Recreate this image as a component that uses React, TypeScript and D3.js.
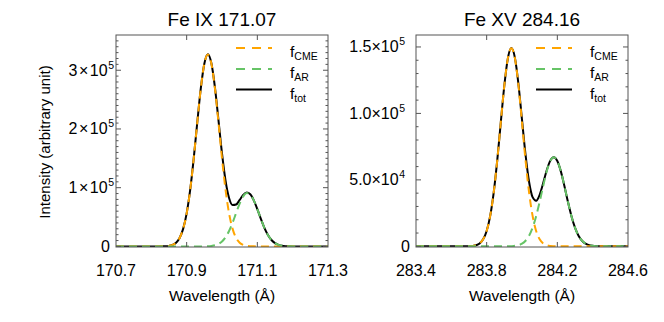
import React from "react";
import * as d3 from "d3";

const FONT = "'Liberation Sans', Arial, Helvetica, sans-serif";

// ---------- Data (intensities in units of 1e3) ----------
const leftTitle = "Fe IX 171.07";
const leftWavelength = [
  170.7, 170.8, 170.82, 170.83, 170.84, 170.85, 170.86, 170.87, 170.88, 170.89,
  170.9, 170.91, 170.92, 170.93, 170.94, 170.95, 170.96, 170.97, 170.98, 170.99,
  171.0, 171.01, 171.02, 171.03, 171.04, 171.05, 171.06, 171.07, 171.08, 171.09,
  171.1, 171.11, 171.12, 171.13, 171.14, 171.15, 171.16, 171.17, 171.18, 171.19,
  171.2, 171.3,
];
const leftCME = [
  0, 0, 0, 0.1, 0.3, 0.9, 2.5, 6.3, 14.4, 29.9,
  56.2, 96.5, 150, 211, 269, 311, 327, 311, 269, 211,
  150, 96.5, 56.2, 29.9, 14.4, 6.3, 2.5, 0.9, 0.3, 0.1,
  0, 0, 0, 0, 0, 0, 0, 0, 0, 0,
  0, 0,
];
const leftAR = [
  0, 0, 0, 0, 0, 0, 0, 0, 0, 0,
  0, 0, 0, 0, 0, 0.1, 0.29, 0.77, 1.87, 4.15,
  8.4, 15.6, 26.3, 40.5, 56.9, 72.9, 85.2, 90.8, 88.4, 78.4,
  63.5, 46.9, 31.6, 19.4, 10.9, 5.6, 2.6, 1.1, 0.43, 0.15,
  0.05, 0,
];
const leftXTicks = [170.7, 170.9, 171.1, 171.3];
const leftYTicks = [0, 100, 200, 300];
const leftYLabels = [["0", ""], ["1", "5"], ["2", "5"], ["3", "5"]];
const leftXDomain = [170.7, 171.3];
const leftYDomain = [-1, 360];

const rightTitle = "Fe XV 284.16";
const rightWavelength = [
  283.4, 283.6, 283.64, 283.66, 283.68, 283.7, 283.72, 283.74, 283.76, 283.78,
  283.8, 283.82, 283.84, 283.86, 283.88, 283.9, 283.92, 283.94, 283.96, 283.98,
  284.0, 284.02, 284.04, 284.06, 284.08, 284.1, 284.12, 284.14, 284.16, 284.18,
  284.2, 284.22, 284.24, 284.26, 284.28, 284.3, 284.32, 284.34, 284.36, 284.38,
  284.4, 284.42, 284.44, 284.46, 284.48, 284.6,
];
const rightCME = [
  0, 0, 0, 0, 0, 0.08, 0.27, 0.82, 2.2, 5.3,
  11.6, 22.9, 40.6, 64.8, 93.3, 121.0, 141.4, 149, 141.4, 121.0,
  93.3, 64.8, 40.6, 22.9, 11.6, 5.3, 2.2, 0.82, 0.27, 0.08,
  0, 0, 0, 0, 0, 0, 0, 0, 0, 0,
  0, 0, 0, 0, 0, 0,
];
const rightAR = [
  0, 0, 0, 0, 0, 0, 0, 0, 0, 0,
  0, 0, 0, 0, 0, 0, 0, 0.13, 0.36, 0.89,
  2.0, 4.2, 8.0, 14.1, 22.7, 33.5, 45.4, 56.4, 64.2, 67,
  64.2, 56.4, 45.4, 33.5, 22.7, 14.1, 8.0, 4.2, 2.0, 0.89,
  0.36, 0.13, 0.04, 0, 0, 0,
];
const rightXTicks = [283.4, 283.8, 284.2, 284.6];
const rightYTicks = [0, 50, 100, 150];
const rightYLabels = [["0", ""], ["5.0", "4"], ["1.0", "5"], ["1.5", "5"]];
const rightXDomain = [283.4, 284.6];
const rightYDomain = [-0.5, 159];

const minorStep = 10; // 1e4
const legendNames = [["f", "CME"], ["f", "AR"], ["f", "tot"]];
const xTitle = "Wavelength (Å)";
const yTitle = "Intensity (arbitrary unit)";

const COLORS = { cme: "#FFA500", ar: "#66C466", tot: "#000000", frame: "#555555" };

type PanelProps = {
  left: number;
  right: number;
  title: string;
  wl: number[];
  cme: number[];
  ar: number[];
  xTicks: number[];
  yTicks: number[];
  yLabels: string[][];
  xDomain: number[];
  yDomain: number[];
  labelGap: number;
  timesSpace: number;
};

const TOP = 35;
const BOTTOM = 247;

function Panel(p: PanelProps) {
  const x = d3.scaleLinear().domain(p.xDomain).range([p.left, p.right]);
  const y = d3.scaleLinear().domain(p.yDomain).range([BOTTOM, TOP]);
  const tot = p.cme.map((v, i) => v + p.ar[i]);
  const line = d3
    .line<number>()
    .x((_, i) => x(p.wl[i]))
    .y((d) => y(d))
    .curve(d3.curveMonotoneX);
  const minors = d3.range(0, p.yDomain[1], minorStep).filter((v) => !p.yTicks.includes(v));
  const xMajors = p.xTicks.filter((v) => v > p.xDomain[0] && v < p.xDomain[1]);
  const cx = (p.left + p.right) / 2;
  const legX = p.right - 92;
  const legY = [48, 69, 89.5];
  const dash = "8,5";
  return (
    <g>
      <text x={cx} y={26} textAnchor="middle" fontSize={19} fontFamily={FONT}>
        {p.title}
      </text>
      <defs>
        <clipPath id={`clip-${p.left}`}>
          <rect x={p.left} y={TOP - 2} width={p.right - p.left} height={BOTTOM - TOP + 2} />
        </clipPath>
      </defs>
      <g clipPath={`url(#clip-${p.left})`}>
        <path d={line(tot) || ""} fill="none" stroke={COLORS.tot} strokeWidth={2} />
        <path d={line(p.cme) || ""} fill="none" stroke={COLORS.cme} strokeWidth={2} strokeDasharray={dash} />
        <path d={line(p.ar) || ""} fill="none" stroke={COLORS.ar} strokeWidth={2} strokeDasharray={dash} />
      </g>
      {/* frame */}
      <rect x={p.left} y={TOP} width={p.right - p.left} height={BOTTOM - TOP} fill="none" stroke={COLORS.frame} strokeWidth={1} />
      {/* y ticks */}
      {p.yTicks.map((t) => (
        <g key={"ym" + t}>
          <line x1={p.left} x2={p.left + 5} y1={y(t)} y2={y(t)} stroke={COLORS.frame} />
          <line x1={p.right} x2={p.right - 5} y1={y(t)} y2={y(t)} stroke={COLORS.frame} />
        </g>
      ))}
      {minors.map((t) => (
        <g key={"yn" + t}>
          <line x1={p.left} x2={p.left + 2.5} y1={y(t)} y2={y(t)} stroke={COLORS.frame} />
          <line x1={p.right} x2={p.right - 2.5} y1={y(t)} y2={y(t)} stroke={COLORS.frame} />
        </g>
      ))}
      {xMajors.map((t) => (
        <g key={"xm" + t}>
          <line x1={x(t)} x2={x(t)} y1={BOTTOM} y2={BOTTOM - 5} stroke={COLORS.frame} />
          <line x1={x(t)} x2={x(t)} y1={TOP} y2={TOP + 5} stroke={COLORS.frame} />
        </g>
      ))}
      {/* y labels */}
      {p.yTicks.map((t, i) => (
        <text
          key={"yl" + t}
          x={p.left - (p.yLabels[i][1] ? p.labelGap : 6)}
          y={y(t) + 5.5}
          textAnchor="end"
          fontSize={16}
          fontFamily={FONT}
        >
          {p.yLabels[i][0]}
          {p.yLabels[i][1] ? (
            <>
              <tspan dx={p.timesSpace}>×</tspan>
              <tspan dx={p.timesSpace}>10</tspan>
              <tspan dx={0.5} dy={-7} fontSize={10.5}>
                {p.yLabels[i][1]}
              </tspan>
            </>
          ) : null}
        </text>
      ))}
      {/* x labels */}
      {p.xTicks.map((t) => (
        <text key={"xl" + t} x={x(t)} y={276} textAnchor="middle" fontSize={16} fontFamily={FONT}>
          {t.toFixed(1)}
        </text>
      ))}
      <text x={cx} y={301} textAnchor="middle" fontSize={15.5} fontFamily={FONT}>
        {xTitle}
      </text>
      {/* legend */}
      {legendNames.map((n, i) => (
        <g key={"lg" + i}>
          <line
            x1={legX}
            x2={legX + 36}
            y1={legY[i]}
            y2={legY[i]}
            stroke={i === 0 ? COLORS.cme : i === 1 ? COLORS.ar : COLORS.tot}
            strokeWidth={2}
            strokeDasharray={i === 2 ? undefined : "9,7"}
          />
          <text x={legX + 54} y={legY[i] + 9} fontSize={15.5} fontFamily={FONT}>
            {n[0]}
            <tspan dy={3} fontSize={10.5}>
              {n[1]}
            </tspan>
          </text>
        </g>
      ))}
    </g>
  );
}

export default function App() {
  return (
    <svg
      width={664}
      height={322}
      style={{ position: "absolute", left: 0, top: 0, background: "#fff" }}
    >
      <rect width={664} height={322} fill="#fff" />
      <text
        transform={`translate(50,142) rotate(-90)`}
        textAnchor="middle"
        fontSize={15}
        fontFamily={FONT}
      >
        {yTitle}
      </text>
      <Panel
        left={116}
        right={328}
        title={leftTitle}
        wl={leftWavelength}
        cme={leftCME}
        ar={leftAR}
        xTicks={leftXTicks}
        yTicks={leftYTicks}
        yLabels={leftYLabels}
        xDomain={leftXDomain}
        yDomain={leftYDomain}
        labelGap={2}
        timesSpace={1.5}
      />
      <Panel
        left={416}
        right={628}
        title={rightTitle}
        wl={rightWavelength}
        cme={rightCME}
        ar={rightAR}
        xTicks={rightXTicks}
        yTicks={rightYTicks}
        yLabels={rightYLabels}
        xDomain={rightXDomain}
        yDomain={rightYDomain}
        labelGap={11}
        timesSpace={0}
      />
    </svg>
  );
}
